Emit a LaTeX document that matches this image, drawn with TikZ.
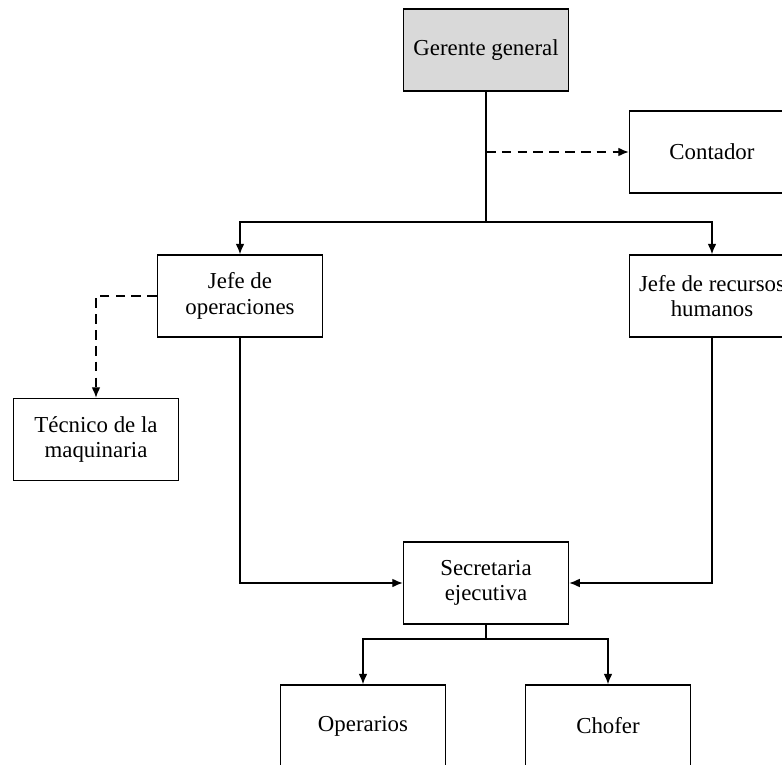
\documentclass[tikz,border=0pt]{standalone}
\usepackage{fontspec}
\setmainfont{Liberation Serif}
\usetikzlibrary{arrows.meta}
\definecolor{gris}{RGB}{217,217,217}
\begin{document}
\begin{tikzpicture}[
        caja/.style={draw, rectangle, minimum width=3.3cm, minimum height=1.64cm,
            align=center, line width=0.8pt, font=\fontsize{13}{14.5}\selectfont},
        flecha/.style={line width=0.8pt, -{Latex[length=6pt,width=5pt]}},
        linea/.style={line width=0.8pt},
        punteada/.style={flecha, dash pattern=on 5.5pt off 3.5pt}
    ]
    \useasboundingbox (0,0) rectangle (15.64,-15.3);
    \clip (0,0) rectangle (15.64,-15.3);
    % Nivel superior
    \node[caja, fill=gris] (ger) at (9.72,-1.0) {Gerente general};
    \node[caja] (cont) at (14.24,-3.04) {Contador};
    % Jefaturas
    \node[caja] (jop) at (4.8,-5.92) {Jefe de\\operaciones};
    \node[caja] (jrh) at (14.24,-5.92) {Jefe de recursos\\humanos};
    \node[caja] (tec) at (1.92,-8.79) {Técnico de la\\maquinaria};
    % Secretaria y personal
    \node[caja] (sec) at (9.72,-11.66) {Secretaria\\ejecutiva};
    \node[caja] (ope) at (7.26,-14.52) {Operarios};
    \node[caja] (cho) at (12.16,-14.52) {Chofer};
    % Conectores
    \coordinate (r1) at (9.72,-4.44);
    \coordinate (r2) at (9.72,-12.78);
    \draw[linea] (ger.south) -- (r1);
    \draw[flecha] (r1) -| (jop.north);
    \draw[flecha] (r1) -| (jrh.north);
    \draw[punteada] (ger.south |- cont.west) -- (cont.west);
    \draw[punteada] (jop.west) -| (tec.north);
    \draw[flecha] (jop.south) |- (sec.west);
    \draw[flecha] (jrh.south) |- (sec.east);
    \draw[linea] (sec.south) -- (r2);
    \draw[flecha] (r2) -| (ope.north);
    \draw[flecha] (r2) -| (cho.north);
\end{tikzpicture}
\end{document}
